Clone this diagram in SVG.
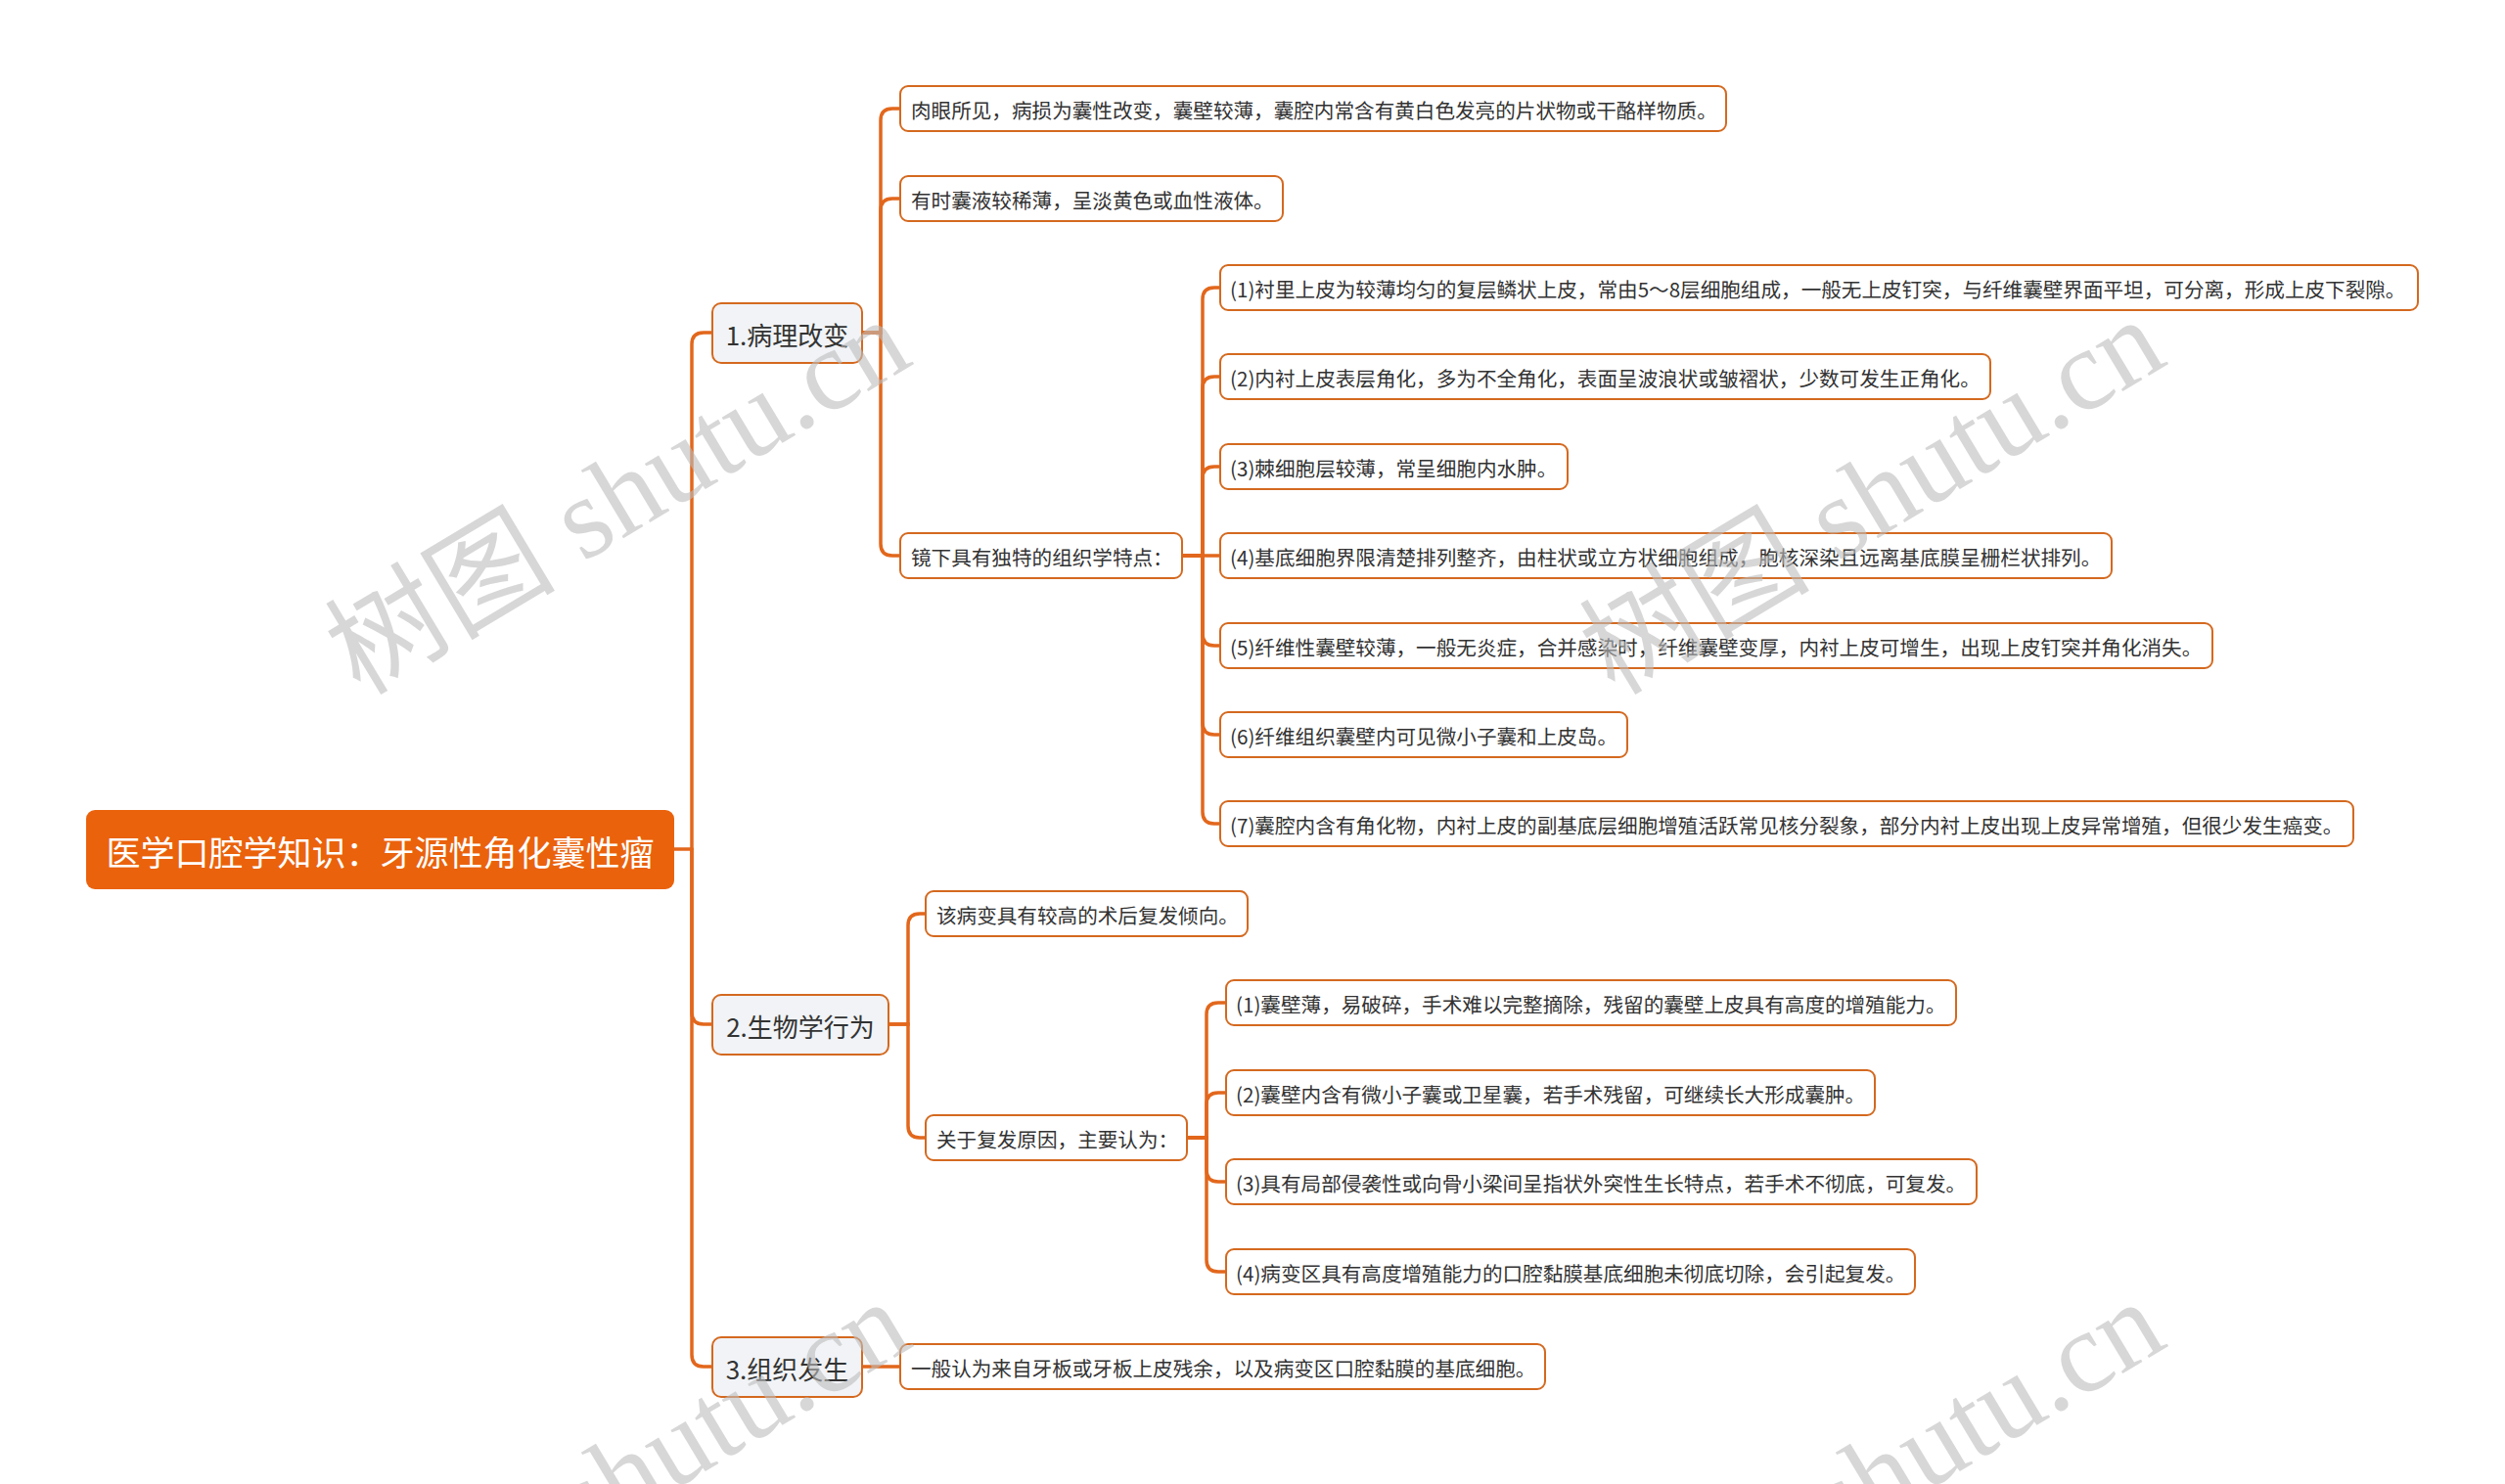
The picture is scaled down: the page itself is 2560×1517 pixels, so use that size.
<svg xmlns="http://www.w3.org/2000/svg" width="2560" height="1517" viewBox="0 0 2560 1517">
<style>
.edge{fill:none;stroke:#E2671C;stroke-width:3.5;stroke-linecap:round}
.root rect{fill:#EA620C}
.root text{fill:#fff;font-size:35px;text-anchor:middle}
.l1 rect{fill:#F1F3F6;stroke:#D4691F;stroke-width:2}
.l1 text{fill:#333;font-size:26px;text-anchor:middle}
.lf rect{fill:#fff;stroke:#D4691F;stroke-width:2}
.lf text{fill:#333;font-size:20.6px}
text{font-family:"Noto Sans CJK SC","Microsoft YaHei",sans-serif;dominant-baseline:central}
.wm{font-family:"Liberation Serif","Noto Sans CJK SC",serif;font-size:118px;fill:#bdbdbd;fill-opacity:0.6;dominant-baseline:alphabetic}
</style>
<rect width="2560" height="1517" fill="#fff"/>
<g id="connectors">
<path class="edge" d="M689,868 H707"/>
<path class="edge" d="M707,868 V352 Q707,340 719,340 H728"/>
<path class="edge" d="M707,868 V1035 Q707,1047 719,1047 H728"/>
<path class="edge" d="M707,868 V1385 Q707,1397 719,1397 H728"/>
<path class="edge" d="M881,340 H900 V123 Q900,111 912,111 H920"/>
<path class="edge" d="M881,340 H900 V215 Q900,203 912,203 H920"/>
<path class="edge" d="M881,340 H900 V556 Q900,568 912,568 H920"/>
<path class="edge" d="M1208,568 H1229 V306 Q1229,294 1241,294 H1247"/>
<path class="edge" d="M1208,568 H1229 V397 Q1229,385 1241,385 H1247"/>
<path class="edge" d="M1208,568 H1229 V489 Q1229,477 1241,477 H1247"/>
<path class="edge" d="M1208,568 H1247"/>
<path class="edge" d="M1208,568 H1229 V648 Q1229,660 1241,660 H1247"/>
<path class="edge" d="M1208,568 H1229 V739 Q1229,751 1241,751 H1247"/>
<path class="edge" d="M1208,568 H1229 V830 Q1229,842 1241,842 H1247"/>
<path class="edge" d="M908,1047 H928 V946 Q928,934 940,934 H946"/>
<path class="edge" d="M908,1047 H928 V1151 Q928,1163 940,1163 H946"/>
<path class="edge" d="M1213,1163 H1233 V1037 Q1233,1025 1245,1025 H1253"/>
<path class="edge" d="M1213,1163 H1233 V1129 Q1233,1117 1245,1117 H1253"/>
<path class="edge" d="M1213,1163 H1233 V1196 Q1233,1208 1245,1208 H1253"/>
<path class="edge" d="M1213,1163 H1233 V1288 Q1233,1300 1245,1300 H1253"/>
<path class="edge" d="M881,1397 H920"/>
</g>
<g id="root" class="root"><rect x="88" y="828" width="601" height="81" rx="9"/><text x="388.5" y="869">医学口腔学知识：牙源性角化囊性瘤</text></g>
<g id="n1" class="l1"><rect x="728" y="310" width="153" height="61" rx="9"/><text x="804.5" y="341">1.病理改变</text></g>
<g id="n2" class="l1"><rect x="728" y="1017" width="180" height="61" rx="9"/><text x="818" y="1048">2.生物学行为</text></g>
<g id="n3" class="l1"><rect x="728" y="1367" width="153" height="61" rx="9"/><text x="804.5" y="1398">3.组织发生</text></g>
<g id="n1a" class="lf"><rect x="920" y="88" width="844" height="46" rx="8"/><text x="931" y="112">肉眼所见，病损为囊性改变，囊壁较薄，囊腔内常含有黄白色发亮的片状物或干酪样物质。</text></g>
<g id="n1b" class="lf"><rect x="920" y="180" width="391" height="46" rx="8"/><text x="931" y="204">有时囊液较稀薄，呈淡黄色或血性液体。</text></g>
<g id="n1c" class="lf"><rect x="920" y="545" width="288" height="46" rx="8"/><text x="931" y="569">镜下具有独特的组织学特点：</text></g>
<g id="n1c1" class="lf"><rect x="1247" y="271" width="1224" height="46" rx="8"/><text x="1257" y="295">(1)衬里上皮为较薄均匀的复层鳞状上皮，常由5～8层细胞组成，一般无上皮钉突，与纤维囊壁界面平坦，可分离，形成上皮下裂隙。</text></g>
<g id="n1c2" class="lf"><rect x="1247" y="362" width="787" height="46" rx="8"/><text x="1257" y="386">(2)内衬上皮表层角化，多为不全角化，表面呈波浪状或皱褶状，少数可发生正角化。</text></g>
<g id="n1c3" class="lf"><rect x="1247" y="454" width="355" height="46" rx="8"/><text x="1257" y="478">(3)棘细胞层较薄，常呈细胞内水肿。</text></g>
<g id="n1c4" class="lf"><rect x="1247" y="545" width="911" height="46" rx="8"/><text x="1257" y="569">(4)基底细胞界限清楚排列整齐，由柱状或立方状细胞组成，胞核深染且远离基底膜呈栅栏状排列。</text></g>
<g id="n1c5" class="lf"><rect x="1247" y="637" width="1014" height="46" rx="8"/><text x="1257" y="661">(5)纤维性囊壁较薄，一般无炎症，合并感染时，纤维囊壁变厚，内衬上皮可增生，出现上皮钉突并角化消失。</text></g>
<g id="n1c6" class="lf"><rect x="1247" y="728" width="416" height="46" rx="8"/><text x="1257" y="752">(6)纤维组织囊壁内可见微小子囊和上皮岛。</text></g>
<g id="n1c7" class="lf"><rect x="1247" y="819" width="1158" height="46" rx="8"/><text x="1257" y="843">(7)囊腔内含有角化物，内衬上皮的副基底层细胞增殖活跃常见核分裂象，部分内衬上皮出现上皮异常增殖，但很少发生癌变。</text></g>
<g id="n2a" class="lf"><rect x="946" y="911" width="329" height="46" rx="8"/><text x="957" y="935">该病变具有较高的术后复发倾向。</text></g>
<g id="n2b" class="lf"><rect x="946" y="1140" width="267" height="46" rx="8"/><text x="957" y="1164">关于复发原因，主要认为：</text></g>
<g id="n2b1" class="lf"><rect x="1253" y="1002" width="746" height="46" rx="8"/><text x="1263" y="1026">(1)囊壁薄，易破碎，手术难以完整摘除，残留的囊壁上皮具有高度的增殖能力。</text></g>
<g id="n2b2" class="lf"><rect x="1253" y="1094" width="663" height="46" rx="8"/><text x="1263" y="1118">(2)囊壁内含有微小子囊或卫星囊，若手术残留，可继续长大形成囊肿。</text></g>
<g id="n2b3" class="lf"><rect x="1253" y="1185" width="767" height="46" rx="8"/><text x="1263" y="1209">(3)具有局部侵袭性或向骨小梁间呈指状外突性生长特点，若手术不彻底，可复发。</text></g>
<g id="n2b4" class="lf"><rect x="1253" y="1277" width="704" height="46" rx="8"/><text x="1263" y="1301">(4)病变区具有高度增殖能力的口腔黏膜基底细胞未彻底切除，会引起复发。</text></g>
<g id="n3a" class="lf"><rect x="920" y="1374" width="659" height="46" rx="8"/><text x="931" y="1398">一般认为来自牙板或牙板上皮残余，以及病变区口腔黏膜的基底细胞。</text></g>
<g id="watermark">
<text class="wm" transform="translate(368,712) rotate(-31)">树图 shutu.cn</text>
<text class="wm" transform="translate(1650,712) rotate(-31)">树图 shutu.cn</text>
<text class="wm" transform="translate(368,1716) rotate(-31)">树图 shutu.cn</text>
<text class="wm" transform="translate(1650,1716) rotate(-31)">树图 shutu.cn</text>
</g>
</svg>
